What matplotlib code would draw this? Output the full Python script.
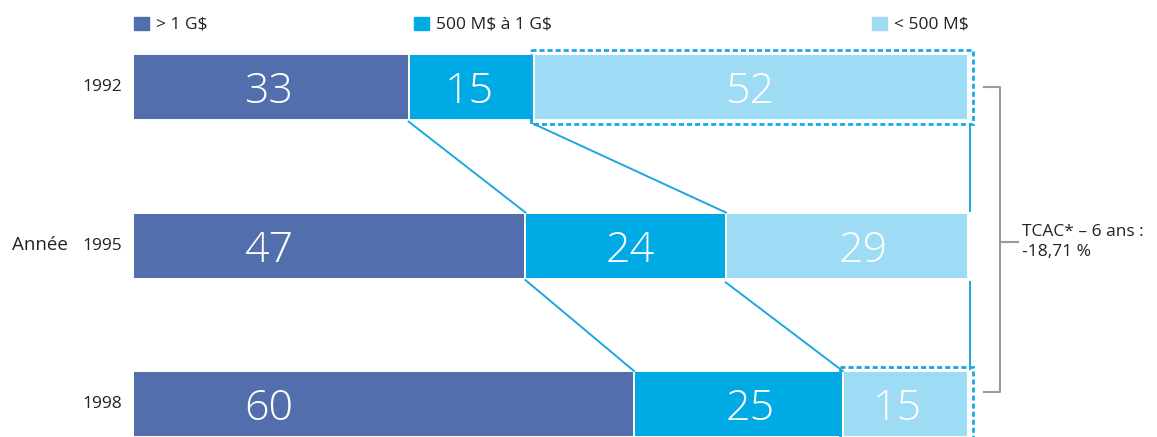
import matplotlib.pyplot as plt
from matplotlib.patches import Rectangle
import numpy as np

plt.rcParams['font.family'] = ['Open Sans', 'DejaVu Sans']
plt.rcParams['text.parse_math'] = False

years = ['1992', '1995', '1998']
categories = ['> 1 G$', '500 M$ à 1 G$', '< 500 M$']
big = [33, 47, 60]
mid = [15, 24, 25]
small = [52, 29, 15]
cagr_label = 'TCAC* – 6 ans :\n-18,71 %'

colors = ['#526EAD', '#00ABE5', '#9EDCF5']
line_col = '#1BA7E0'

# pixel -> data helpers (axes cover the whole figure)
def px(p):
    return (p - 133) / 8.35

def py(p):
    return (p - 87) / 158.5

fig = plt.figure(figsize=(11.57, 4.37), dpi=100)
ax = fig.add_axes([0, 0, 1, 1])
ax.set_xlim(px(0), px(1157))
ax.set_ylim(py(437), py(0))
ax.axis('off')

rows = np.arange(len(years))
h = 66 / 158.5
series = [big, mid, small]
left = np.zeros(len(years))
for vals, c in zip(series, colors):
    ax.barh(rows, vals, left=left, height=h, color=c, edgecolor='white', linewidth=1.4)
    left += np.array(vals)

# value labels (first segment sits at a fixed spot, like the original)
label_x = [[16.2, 16.2, 16.2], [40.3, 59.5, 73.9], [74.0, 87.4, 91.5]]
for s, vals in enumerate(series):
    for r, v in enumerate(vals):
        ax.text(label_x[s][r], r, str(v), color='white', fontsize=31, fontweight='light',
                ha='center', va='center_baseline')

# connectors between rows
for r in range(len(years) - 1):
    b1 = np.cumsum([series[0][r], series[1][r]])
    b2 = np.cumsum([series[0][r + 1], series[1][r + 1]])
    y0 = r + h / 2 + 0.01
    y1 = r + 1 - h / 2
    ax.plot([b1[0], b2[0]], [y0, y1], color=line_col, lw=1.4)
    ax.plot([b1[1], b2[1]], [y0 + 0.015, y1], color=line_col, lw=1.4)
    ax.plot([100.2, 100.2], [y0 + 0.015, y1 - 0.01], color=line_col, lw=1.4)

# dashed highlight boxes
pad = 4 / 158.5
for r in [0, 2]:
    x0 = series[0][r] + series[1][r] - 0.35
    ax.add_patch(Rectangle((x0, r - h / 2 - pad), 100.6 - x0, h + 2 * pad, fill=False,
                           edgecolor=line_col, lw=2, linestyle=(0, (1.8, 1.1)), clip_on=False))

# year labels
for r, y in enumerate(years):
    ax.text(px(122), r, y, ha='right', va='center', fontsize=12.5, color='#222222')
ax.text(px(12), 1, 'Année', ha='left', va='center', fontsize=13.5, color='#222222')

# legend
leg_x = [134, 414, 872]
for lx, lab, c in zip(leg_x, categories, colors):
    ax.add_patch(Rectangle((px(lx), py(30)), px(lx + 15) - px(lx), py(17) - py(30), color=c))
    ax.text(px(lx + 22), py(24), lab, ha='left', va='center', fontsize=12.5, color='#222222')

# bracket
gray = '#9A9A9A'
ax.plot([px(984), px(1000), px(1000), px(984)], [py(87), py(87), py(392), py(392)],
        color=gray, lw=1.5)
ax.plot([px(1000), px(1018)], [py(242), py(242)], color=gray, lw=1.5)
ax.text(px(1022), py(242), cagr_label, ha='left', va='center', fontsize=12.5,
        color='#222222', linespacing=1.3)

fig.savefig('out.png', dpi=100)
